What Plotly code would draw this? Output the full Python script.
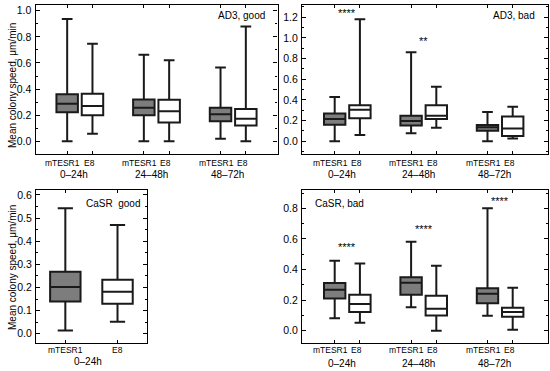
import plotly.graph_objects as go

# ---------------- data (five-number summaries: low whisker, Q1, median, Q3, high whisker)
time_labels = ["0–24h", "24–48h", "48–72h"]
media = ["mTESR1", "E8"]
y_title = "Mean colony speed, μm/min"

ad3_good_mtesr1 = [[0.000, 0.222, 0.288, 0.360, 0.936],
                   [0.000, 0.199, 0.258, 0.321, 0.663],
                   [0.020, 0.153, 0.207, 0.258, 0.566]]
ad3_good_e8 = [[0.059, 0.200, 0.270, 0.365, 0.747],
               [0.000, 0.145, 0.230, 0.319, 0.620],
               [0.000, 0.122, 0.173, 0.247, 0.880]]

ad3_bad_mtesr1 = [[0.000, 0.161, 0.216, 0.268, 0.429],
                  [0.077, 0.152, 0.197, 0.248, 0.861],
                  [0.000, 0.103, 0.135, 0.158, 0.284]]
ad3_bad_e8 = [[0.061, 0.223, 0.306, 0.348, 1.180],
              [0.132, 0.216, 0.248, 0.348, 0.529],
              [0.026, 0.052, 0.123, 0.239, 0.335]]
ad3_bad_stars = ["****", "**", ""]
ad3_bad_star_y = [1.24, 0.975, None]

casr_good_mtesr1 = [[0.014, 0.139, 0.202, 0.268, 0.543]]
casr_good_e8 = [[0.052, 0.130, 0.182, 0.234, 0.470]]

casr_bad_mtesr1 = [[0.081, 0.211, 0.268, 0.312, 0.458],
                   [0.153, 0.235, 0.314, 0.349, 0.582],
                   [0.098, 0.179, 0.242, 0.277, 0.800]]
casr_bad_e8 = [[0.052, 0.122, 0.174, 0.235, 0.440],
               [0.000, 0.100, 0.144, 0.229, 0.425],
               [0.007, 0.092, 0.122, 0.150, 0.281]]
casr_bad_stars = ["****", "****", "****"]
casr_bad_star_y = [0.545, 0.665, 0.85]

# ---------------- layout helpers
W, H = 550, 371
FONT = "Liberation Sans, Arial, sans-serif"
GRAY = "#7d7d7d"
LINE = "#1a1a1a"


def px_x(p):
    return p / W


def px_y(p):
    return 1 - p / H


fig = go.Figure()

panels = [
    dict(m=ad3_good_mtesr1, e=ad3_good_e8, ax=1, xd=(35.5, 277.5), yd=(5, 154),
         yr=(-0.097, 1.044), dt=0.2, title="AD3, good", tx=0.955, ty=0.93, tanchor="right",
         off=0.165, bw=0.28, xr=(0.422, 3.578), stars=None, lab=(163.3, 174.5)),
    dict(m=ad3_bad_mtesr1, e=ad3_bad_e8, ax=2, xd=(302, 548), yd=(5, 154),
         yr=(-0.123, 1.319), dt=0.2, title="AD3, bad", tx=0.954, ty=0.93, tanchor="right",
         off=0.165, bw=0.28, xr=(0.407, 3.627), stars=(ad3_bad_stars, ad3_bad_star_y), lab=(163.3, 174.5)),
    dict(m=casr_good_mtesr1, e=casr_good_e8, ax=3, xd=(36, 147), yd=(190, 343),
         yr=(-0.040, 0.6215), dt=0.1, title="CaSR  good", tx=0.952, ty=0.91, tanchor="right",
         off=0.5, bw=0.583, xr=(0.438, 2.565), stars=None, lab=(350, 361.5)),
    dict(m=casr_bad_mtesr1, e=casr_bad_e8, ax=4, xd=(302, 548), yd=(190, 343),
         yr=(-0.080, 0.9196), dt=0.2, title="CaSR, bad", tx=0.046, ty=0.91, tanchor="left",
         off=0.165, bw=0.28, xr=(0.407, 3.627), stars=(casr_bad_stars, casr_bad_star_y), lab=(350, 363.5)),
]

annotations = []
for P in panels:
    i = P["ax"]
    xa = "x" if i == 1 else f"x{i}"
    ya = "y" if i == 1 else f"y{i}"
    ngroups = len(P["m"])
    centers = [1.5] if ngroups == 1 else [g + 1 for g in range(ngroups)]
    xm = [c - P["off"] for c in centers]
    xe = [c + P["off"] for c in centers]
    for xs, data, fill in ((xm, P["m"], GRAY), (xe, P["e"], "white")):
        fig.add_trace(go.Box(
            x=xs,
            lowerfence=[d[0] for d in data], q1=[d[1] for d in data], median=[d[2] for d in data],
            q3=[d[3] for d in data], upperfence=[d[4] for d in data],
            width=P["bw"], whiskerwidth=0.5, fillcolor=fill,
            line=dict(color=LINE, width=2), boxpoints=False, hoverinfo="skip",
            showlegend=False, xaxis=xa, yaxis=ya))

    axkw = dict(showline=True, linecolor="black", linewidth=1.2, mirror="ticks",
                showgrid=False, zeroline=False, ticks="inside", tickcolor="black")
    fig.update_layout(**{
        ("xaxis" if i == 1 else f"xaxis{i}"): dict(
            domain=[px_x(P["xd"][0]), px_x(P["xd"][1])], range=list(P["xr"]),
            anchor=ya, tickvals=sorted(xm + xe), showticklabels=False, ticklen=3, **axkw),
        ("yaxis" if i == 1 else f"yaxis{i}"): dict(
            domain=[px_y(P["yd"][1]), px_y(P["yd"][0])], range=list(P["yr"]),
            anchor=xa, dtick=P["dt"], tick0=0, ticklen=4, tickformat=".1f",
            tickfont=dict(family=FONT, size=10.5, color="black"),
            minor=dict(ticks="inside", ticklen=2, dtick=P["dt"] / 2, tickcolor="black"),
            ticklabelstandoff=1, **axkw),
    })

    annotations.append(dict(text=P["title"], xref=f"{xa} domain", yref=f"{ya} domain",
                            x=P["tx"], y=P["ty"], xanchor=P["tanchor"], yanchor="middle",
                            showarrow=False, font=dict(family=FONT, size=10, color="black")))
    y1, y2 = P["lab"]
    for g, c in enumerate(centers):
        if ngroups == 1:
            pos_m, pos_e, pos_t = xm[g], xe[g], c - 0.06
        else:
            pos_m, pos_e, pos_t = c - 0.22, c + 0.12, c - 0.07
        annotations.append(dict(text=media[0], xref=xa, yref="paper", x=pos_m, y=px_y(y1),
                                showarrow=False, xanchor="center", yanchor="middle",
                                font=dict(family=FONT, size=8.5, color="black")))
        annotations.append(dict(text=media[1], xref=xa, yref="paper", x=pos_e, y=px_y(y1),
                                showarrow=False, xanchor="center", yanchor="middle",
                                font=dict(family=FONT, size=8.5, color="black")))
        annotations.append(dict(text=time_labels[g], xref=xa, yref="paper", x=pos_t, y=px_y(y2),
                                showarrow=False, xanchor="center", yanchor="middle",
                                font=dict(family=FONT, size=10, color="black")))
    if P["stars"]:
        st, sy = P["stars"]
        for g, c in enumerate(centers):
            if st[g]:
                annotations.append(dict(text=st[g], xref=xa, yref=ya, x=c, y=sy[g],
                                        showarrow=False, xanchor="center", yanchor="middle",
                                        font=dict(family=FONT, size=11, color="black")))

annotations.append(dict(text=y_title, xref="paper", yref="paper", x=px_x(12), y=px_y(86),
                        textangle=-90, showarrow=False, xanchor="center", yanchor="middle",
                        font=dict(family=FONT, size=10, color="black")))
annotations.append(dict(text=y_title, xref="paper", yref="paper", x=px_x(12), y=px_y(268),
                        textangle=-90, showarrow=False, xanchor="center", yanchor="middle",
                        font=dict(family=FONT, size=10, color="black")))

fig.update_layout(width=W, height=H, margin=dict(l=0, r=0, t=0, b=0),
                  paper_bgcolor="white", plot_bgcolor="white", boxmode="overlay",
                  annotations=annotations, showlegend=False)

fig.write_html("out.html", config={"displayModeBar": False},
               post_script="document.body.style.margin='0';document.body.style.overflow='hidden';")
